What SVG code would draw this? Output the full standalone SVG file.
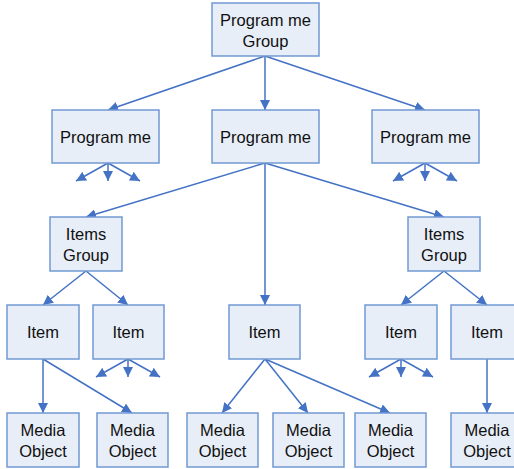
<svg xmlns="http://www.w3.org/2000/svg" width="514" height="469" viewBox="0 0 514 469">
<defs>
<marker id="ah" viewBox="0 0 10 10" refX="10" refY="5" markerWidth="10" markerHeight="10" markerUnits="userSpaceOnUse" orient="auto">
<path d="M0,0 L10,5 L0,10 z" fill="#4472C4"/>
</marker>
<style>
rect{fill:#E8EEF8;stroke:#7199D3;stroke-width:1.5}
text{font-family:"Liberation Sans",Arial,sans-serif;font-size:16.5px;fill:#111;text-anchor:middle}
#connectors line{stroke:#4472C4;stroke-width:1.5;marker-end:url(#ah)}
</style>
</defs>
<rect x="0" y="0" width="514" height="469" style="fill:#fff;stroke:none"/>
<g id="connectors">
<line x1="265" y1="56" x2="108" y2="110"/>
<line x1="265" y1="56" x2="265" y2="110"/>
<line x1="265" y1="56" x2="425" y2="110"/>
<line x1="108" y1="163" x2="76" y2="181"/>
<line x1="108" y1="163" x2="108" y2="181"/>
<line x1="108" y1="163" x2="140" y2="181"/>
<line x1="425" y1="163" x2="393" y2="181"/>
<line x1="425" y1="163" x2="425" y2="181"/>
<line x1="425" y1="163" x2="457" y2="181"/>
<line x1="265" y1="163" x2="86" y2="217"/>
<line x1="265" y1="163" x2="265" y2="305"/>
<line x1="265" y1="163" x2="444" y2="217"/>
<line x1="86" y1="271" x2="43" y2="305"/>
<line x1="86" y1="271" x2="128" y2="305"/>
<line x1="444" y1="271" x2="401" y2="305"/>
<line x1="444" y1="271" x2="487" y2="305"/>
<line x1="128" y1="359" x2="96" y2="377"/>
<line x1="128" y1="359" x2="128" y2="377"/>
<line x1="128" y1="359" x2="160" y2="377"/>
<line x1="401" y1="359" x2="369" y2="377"/>
<line x1="401" y1="359" x2="401" y2="377"/>
<line x1="401" y1="359" x2="433" y2="377"/>
<line x1="43" y1="359" x2="43" y2="413"/>
<line x1="43" y1="359" x2="132" y2="413"/>
<line x1="265" y1="359" x2="222" y2="413"/>
<line x1="265" y1="359" x2="308" y2="413"/>
<line x1="265" y1="359" x2="390" y2="413"/>
<line x1="487" y1="359" x2="487" y2="413"/>
</g>
<g id="pg"><rect x="212" y="3" width="107" height="53"/><text x="265.5" y="26">Program me</text><text x="265.5" y="47">Group</text></g>
<g id="p1"><rect x="52" y="110" width="107" height="53"/><text x="105.5" y="143">Program me</text></g>
<g id="p2"><rect x="212" y="110" width="107" height="53"/><text x="265.5" y="143">Program me</text></g>
<g id="p3"><rect x="372" y="110" width="107" height="53"/><text x="425.5" y="143">Program me</text></g>
<g id="ig1"><rect x="50" y="217" width="72" height="54"/><text x="86" y="240">Items</text><text x="86" y="261">Group</text></g>
<g id="ig2"><rect x="408" y="217" width="72" height="54"/><text x="444" y="240">Items</text><text x="444" y="261">Group</text></g>
<g id="i1"><rect x="7" y="305" width="72" height="54"/><text x="43" y="338">Item</text></g>
<g id="i2"><rect x="93" y="305" width="71" height="54"/><text x="128.5" y="338">Item</text></g>
<g id="i3"><rect x="229" y="305" width="71" height="54"/><text x="264.5" y="338">Item</text></g>
<g id="i4"><rect x="365" y="305" width="72" height="54"/><text x="401" y="338">Item</text></g>
<g id="i5"><rect x="451" y="305" width="72" height="54"/><text x="487" y="338">Item</text></g>
<g id="m1"><rect x="7" y="413" width="72" height="54"/><text x="43" y="436">Media</text><text x="43" y="457">Object</text></g>
<g id="m2"><rect x="97" y="413" width="71" height="54"/><text x="132.5" y="436">Media</text><text x="132.5" y="457">Object</text></g>
<g id="m3"><rect x="187" y="413" width="71" height="54"/><text x="222.5" y="436">Media</text><text x="222.5" y="457">Object</text></g>
<g id="m4"><rect x="273" y="413" width="71" height="54"/><text x="308.5" y="436">Media</text><text x="308.5" y="457">Object</text></g>
<g id="m5"><rect x="355" y="413" width="71" height="54"/><text x="390.5" y="436">Media</text><text x="390.5" y="457">Object</text></g>
<g id="m6"><rect x="451" y="413" width="72" height="54"/><text x="487" y="436">Media</text><text x="487" y="457">Object</text></g>
</svg>
